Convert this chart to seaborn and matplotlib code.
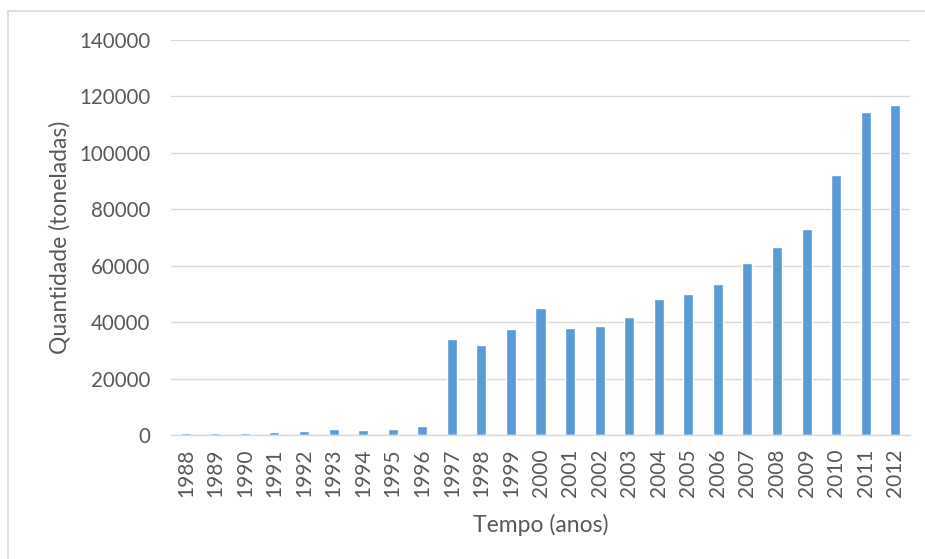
import matplotlib
matplotlib.use("Agg")
import matplotlib.pyplot as plt
import seaborn as sns
import pandas as pd
from matplotlib.patches import Rectangle

years = [str(y) for y in range(1988, 2013)]
values = [600, 600, 600, 1000, 1400, 2300, 1900, 2300, 3200,
          34200, 31900, 37700, 45000, 38100, 38600, 42000, 48100,
          49800, 53400, 60800, 66500, 73100, 92300, 114500, 117100]
yticks = [0, 20000, 40000, 60000, 80000, 100000, 120000, 140000]

df = pd.DataFrame({"ano": years, "quantidade": values})

sns.set_theme(style="white")
plt.rcParams['font.family'] = ['Lato', 'DejaVu Sans']
text_color = '#595959'

fig = plt.figure(figsize=(9.25, 5.59), dpi=100)
ax = fig.add_axes([171/925, 1-435/559, (910-171)/925, (435-40)/559])

sns.barplot(data=df, x="ano", y="quantidade", color="#5B9BD5", width=0.34,
            saturation=1, ax=ax)

ax.set_ylim(0, 140000)
ax.set_yticks(yticks)
ax.set_yticklabels([str(t) for t in yticks])
ax.yaxis.grid(True, color='#D9D9D9', linewidth=1)
ax.set_axisbelow(True)
for s in ['top', 'right', 'left']:
    ax.spines[s].set_visible(False)
ax.spines['bottom'].set_color('#D9D9D9')
ax.spines['bottom'].set_linewidth(1)
ax.tick_params(axis='y', length=0, colors=text_color, labelsize=14.8, pad=15)
ax.tick_params(axis='x', length=0, colors=text_color, labelsize=15, pad=10)
plt.setp(ax.get_xticklabels(), rotation=90)

ax.set_xlabel("Tempo (anos)", color=text_color, fontsize=16.5, labelpad=12)
ax.set_ylabel("Quantidade (toneladas)", color=text_color, fontsize=16.5, labelpad=6)

fig.patches.append(Rectangle((8/925, -0.1), 1.2, (1-11/559)+0.1, transform=fig.transFigure,
                             fill=False, edgecolor='#D9D9D9', linewidth=1.2))

fig.savefig("out.png", dpi=100)
